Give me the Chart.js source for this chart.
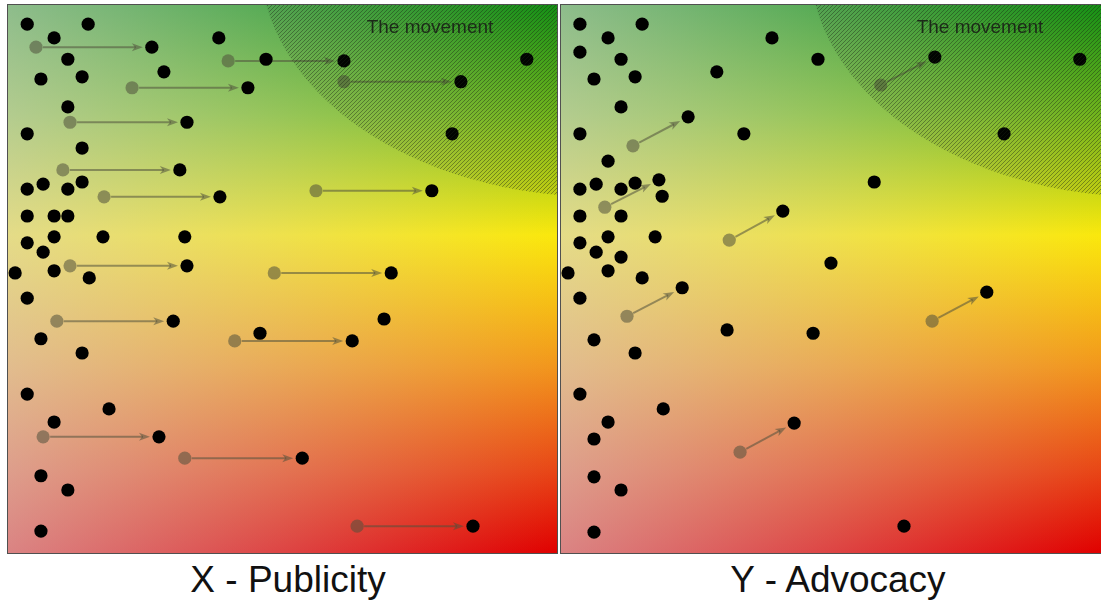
<!DOCTYPE html>
<html>
<head>
<meta charset="utf-8">
<script src="https://cdn.jsdelivr.net/npm/chart.js@4.4.0/dist/chart.umd.min.js"></script>
<style>
  body { margin: 0; width: 1101px; height: 602px; background: #fff; position: relative; overflow: hidden;
         font-family: "Liberation Sans", Arial, sans-serif; }
  .panel { position: absolute; top: 4px; height: 550px; border: 1px solid #505050; box-sizing: border-box; }
  .panel canvas { display: block; }
  .zone-label { position: absolute; top: 17px; width: 200px; text-align: center; font-size: 19px;
                line-height: 19px; color: #1c2a18; }
  .caption { position: absolute; top: 561px; width: 300px; text-align: center; font-size: 37px;
             line-height: 37px; color: #111; }
</style>
</head>
<body>
<div class="panel" style="left:7px;width:551px"><canvas id="publicity" width="549" height="548"></canvas></div>
<div class="panel" style="left:560px;width:543px"><canvas id="advocacy" width="541" height="548"></canvas></div>
<div class="zone-label" style="left:330px">The movement</div>
<div class="zone-label" style="left:880px">The movement</div>
<div class="caption" id="capX" style="left:138px"></div>
<div class="caption" id="capY" style="left:688px"></div>

<script>
// both panels share a 0-100 scale on each axis
const captions = ['X - Publicity', 'Y - Advocacy'];

// X - Publicity: dots that stay put
const publicityStill = [
  [3.5, 96.5], [14.6, 96.5], [8.4, 94.0], [38.4, 94.0], [47.0, 90.1], [10.9, 90.1], [28.4, 87.8],
  [6.0, 86.5], [13.5, 86.9], [10.9, 81.4], [3.5, 76.5], [13.5, 73.9], [80.9, 76.5], [94.5, 90.1],
  [3.5, 66.4], [6.4, 67.3], [10.9, 66.4], [13.5, 67.7], [3.5, 61.5], [8.4, 61.5], [10.9, 61.5],
  [8.4, 57.7], [17.3, 57.7], [32.2, 57.7], [3.5, 56.6], [6.4, 54.9], [1.3, 51.1], [8.4, 51.5],
  [14.8, 50.2], [3.5, 46.5], [6.0, 39.1], [13.5, 36.5], [45.9, 40.1], [68.5, 42.7], [3.5, 29.0],
  [18.4, 26.3], [8.4, 23.9], [6.0, 14.1], [10.9, 11.5], [6.0, 4.0]
];
// X - Publicity: where moving dots started and ended
const publicityFrom = [
  [5.1, 92.3], [40.1, 89.8], [61.2, 86.0], [22.6, 84.9], [11.3, 78.6], [10.0, 69.9], [56.1, 66.1],
  [17.5, 65.0], [11.3, 52.4], [48.5, 51.1], [8.9, 42.3], [41.3, 38.7], [6.4, 21.2], [32.2, 17.3],
  [63.6, 4.9]
];
const publicityTo = [
  [26.2, 92.3], [61.2, 89.8], [82.5, 86.0], [43.7, 84.9], [32.6, 78.6], [31.3, 69.9], [77.2, 66.1],
  [38.6, 65.0], [32.6, 52.4], [69.8, 51.1], [30.1, 42.3], [62.7, 38.7], [27.5, 21.2], [53.6, 17.3],
  [84.7, 4.9]
];

// Y - Advocacy
const advocacyStill = [
  [3.5, 96.5], [15.0, 96.5], [8.7, 94.0], [39.0, 94.0], [3.5, 91.4], [11.1, 90.1], [28.8, 87.8],
  [6.1, 86.5], [13.7, 86.9], [47.5, 90.1], [11.1, 81.4], [3.5, 76.5], [33.8, 76.5], [8.7, 71.5],
  [95.9, 90.1], [81.9, 76.5], [57.9, 67.7], [3.5, 66.4], [6.5, 67.3], [11.1, 66.4], [13.7, 67.5],
  [18.7, 65.1], [3.5, 61.5], [11.1, 61.5], [8.7, 57.7], [17.4, 57.7], [3.5, 56.6], [6.5, 54.9],
  [11.1, 54.0], [1.3, 51.1], [8.7, 51.5], [15.0, 50.2], [3.5, 46.5], [30.7, 40.7], [46.6, 40.1],
  [6.1, 38.9], [13.7, 36.5], [49.9, 52.9], [3.5, 29.0], [18.9, 26.3], [8.7, 23.9], [6.1, 20.8],
  [6.1, 13.9], [11.1, 11.5], [6.1, 3.8], [63.4, 4.9]
];
const advocacyFrom = [
  [13.3, 74.3], [59.1, 85.4], [8.1, 63.1], [31.1, 57.1], [12.2, 43.2], [68.6, 42.3], [33.1, 18.4]
];
const advocacyTo = [
  [23.5, 79.6], [69.1, 90.5], [18.1, 68.1], [41.0, 62.4], [22.4, 48.4], [78.7, 47.6], [43.1, 23.7]
];

// the hatched "movement" zone, in axis units (centre sits past the top-right corner)
const movementZone = { cx: 108, cy: 108, rx: 62, ry: 43 };

document.getElementById('capX').textContent = captions[0];
document.getElementById('capY').textContent = captions[1];

const ghost = 'rgba(80, 80, 60, 0.55)';

const hatch = document.createElement('canvas');
hatch.width = 4;
hatch.height = 4;
const hc = hatch.getContext('2d');
hc.strokeStyle = 'rgba(25, 35, 20, 0.4)';
hc.lineWidth = 1;
hc.beginPath();
hc.moveTo(0, 4); hc.lineTo(4, 0);
hc.moveTo(-1, 1); hc.lineTo(1, -1);
hc.moveTo(3, 5); hc.lineTo(5, 3);
hc.stroke();

function toPts(list) {
    return list.map(p => ({ x: p[0], y: p[1] }));
}

function drawArrow(ctx, x0, y0, x1, y1) {
    const a = Math.atan2(y1 - y0, x1 - x0);
    const c = Math.cos(a), s = Math.sin(a);
    const tx = x1 - c * 9, ty = y1 - s * 9;   // tip stops short of the black dot
    ctx.beginPath();
    ctx.moveTo(x0 + c * 7, y0 + s * 7);
    ctx.lineTo(tx - c * 7, ty - s * 7);
    ctx.stroke();
    ctx.beginPath();
    ctx.moveTo(tx, ty);
    ctx.lineTo(tx - c * 11 - s * 4, ty - s * 11 + c * 4);
    ctx.lineTo(tx - c * 8, ty - s * 8);
    ctx.lineTo(tx - c * 11 + s * 4, ty - s * 11 - c * 4);
    ctx.closePath();
    ctx.fill();
}

function overlay(from, to) {
    return {
        id: 'overlay',
        beforeDraw(chart) {
            const { ctx, chartArea: a } = chart;
            ctx.save();
            const v = ctx.createLinearGradient(0, a.top, 0, a.bottom);
            v.addColorStop(0, 'rgb(22, 150, 22)');
            v.addColorStop(0.2, 'rgb(120, 190, 30)');
            v.addColorStop(0.42, 'rgb(250, 232, 12)');
            v.addColorStop(0.66, 'rgb(242, 150, 28)');
            v.addColorStop(0.85, 'rgb(232, 70, 22)');
            v.addColorStop(1, 'rgb(224, 0, 0)');
            ctx.fillStyle = v;
            ctx.fillRect(a.left, a.top, a.width, a.height);
            const h = ctx.createLinearGradient(a.left, 0, a.right, 0);
            h.addColorStop(0, 'rgba(215, 212, 212, 0.62)');
            h.addColorStop(0.5, 'rgba(215, 212, 212, 0.32)');
            h.addColorStop(1, 'rgba(215, 212, 212, 0)');
            ctx.fillStyle = h;
            ctx.fillRect(a.left, a.top, a.width, a.height);
            ctx.restore();
        },
        beforeDatasetsDraw(chart) {
            const { ctx, scales: { x, y } } = chart;
            ctx.save();
            ctx.strokeStyle = ghost;
            ctx.fillStyle = ghost;
            ctx.lineWidth = 2;
            from.forEach((p, i) => {
                drawArrow(ctx, x.getPixelForValue(p[0]), y.getPixelForValue(p[1]),
                    x.getPixelForValue(to[i][0]), y.getPixelForValue(to[i][1]));
            });
            ctx.restore();
        },
        afterDatasetsDraw(chart) {
            const { ctx, chartArea: a, scales: { x, y } } = chart;
            const cx = x.getPixelForValue(movementZone.cx);
            const cy = y.getPixelForValue(movementZone.cy);
            const rx = Math.abs(x.getPixelForValue(movementZone.cx + movementZone.rx) - cx);
            const ry = Math.abs(y.getPixelForValue(movementZone.cy - movementZone.ry) - cy);
            ctx.save();
            ctx.beginPath();
            ctx.rect(a.left, a.top, a.width, a.height);
            ctx.clip();
            ctx.beginPath();
            ctx.ellipse(cx, cy, rx, ry, 0, 0, Math.PI * 2);
            ctx.fillStyle = 'rgba(20, 50, 10, 0.07)';
            ctx.fill();
            ctx.fillStyle = ctx.createPattern(hatch, 'repeat');
            ctx.fill();
            ctx.restore();
        }
    };
}

function makeChart(id, still, from, to) {
    return new Chart(document.getElementById(id), {
        type: 'scatter',
        data: {
            datasets: [{
                label: 'before',
                data: toPts(from),
                pointRadius: 6.6,
                pointBackgroundColor: ghost,
                pointBorderWidth: 0,
                clip: false
            }, {
                label: 'after',
                data: toPts(to),
                pointRadius: 6.6,
                pointBackgroundColor: '#000',
                pointBorderWidth: 0,
                clip: false
            }, {
                label: 'still',
                data: toPts(still),
                pointRadius: 6.6,
                pointBackgroundColor: '#000',
                pointBorderWidth: 0,
                clip: false
            }]
        },
        options: {
            responsive: false,
            animation: false,
            layout: { padding: 0, autoPadding: false },
            scales: {
                x: { type: 'linear', min: 0, max: 100, display: false },
                y: { type: 'linear', min: 0, max: 100, display: false }
            },
            plugins: {
                legend: { display: false },
                tooltip: { enabled: false }
            }
        },
        plugins: [overlay(from, to)]
    });
}

makeChart('publicity', publicityStill, publicityFrom, publicityTo);
makeChart('advocacy', advocacyStill, advocacyFrom, advocacyTo);
</script>
</body>
</html>
